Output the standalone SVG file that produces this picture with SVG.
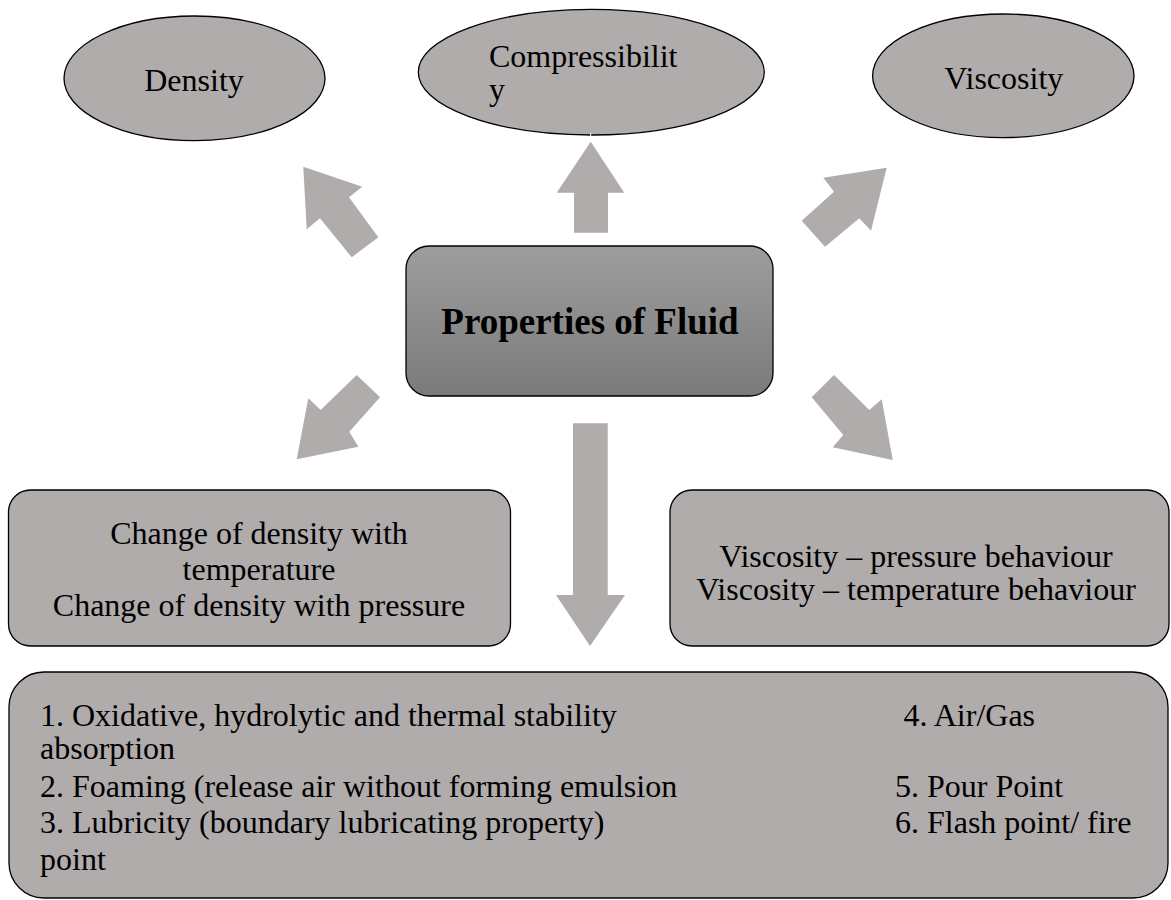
<svg xmlns="http://www.w3.org/2000/svg" width="1171" height="900" viewBox="0 0 1171 900">
  <style>
    .shape { fill: #afacab; stroke: #000; stroke-width: 1.3; }
    .arrow { fill: #afacab; stroke: none; }
    .t { font-family: "Liberation Serif", "Times New Roman", serif; font-size: 32px; fill: #000; }
    .c { text-anchor: middle; }
    .title { font-family: "Liberation Serif", "Times New Roman", serif; font-size: 37px; font-weight: bold; fill: #000; text-anchor: middle; }
  </style>
  <defs>
    <linearGradient id="centerFill" x1="0" y1="0" x2="0" y2="1">
      <stop offset="0" stop-color="#9e9e9e"/>
      <stop offset="1" stop-color="#7a7a7a"/>
    </linearGradient>
  </defs>
  <rect width="1171" height="900" fill="#fff"/>

  <g id="density">
    <ellipse class="shape" cx="194.5" cy="78.3" rx="130.5" ry="62.3"/>
    <text class="t c" x="194" y="90.7">Density</text>
  </g>

  <g id="compressibility">
    <ellipse class="shape" cx="591.3" cy="72.2" rx="173" ry="62.8"/>
    <text class="t" x="489" y="66.7">Compressibilit</text>
    <text class="t" x="489" y="100">y</text>
  </g>

  <g id="viscosity">
    <ellipse class="shape" cx="1003.3" cy="75.8" rx="130.7" ry="61.8"/>
    <text class="t c" x="1003.8" y="89.3">Viscosity</text>
  </g>

  <!-- block arrows radiating from the central box -->
  <g id="connectors">
    <polygon class="arrow" points="303.3,166.7 362.3,186.7 349,197.3 378.3,237.3 351.7,257.3 320,218.3 306.7,229.3"/>
    <polygon class="arrow" points="590.7,141.7 624.3,192.7 608,192.7 608,232.7 574,232.7 574,192.7 556.7,192.7"/>
    <line x1="590.7" y1="133" x2="590.7" y2="141.7" stroke="#fff" stroke-width="1"/>
    <polygon class="arrow" points="886.7,167.7 871,230.7 859.3,218.3 825,246.7 801.7,220.7 834,191.7 823.3,177.7"/>
    <polygon class="arrow" points="356.7,375 380,397.3 349.3,431.7 358.3,446.7 296.7,459.3 308.3,398.3 320.7,410"/>
    <polygon class="arrow" points="573,423.3 607.7,423.3 607.7,595 625,595 590,646 556,595 573,595"/>
    <polygon class="arrow" points="811.7,397.3 834,375 869.3,410 881.7,399.3 892.7,460 832.7,447.3 843.3,435"/>
  </g>

  <g id="properties">
    <rect x="406" y="246" width="367" height="150" rx="23" ry="23" fill="url(#centerFill)" stroke="#000" stroke-width="1.3"/>
    <text class="title" x="590" y="334">Properties of Fluid</text>
  </g>

  <g id="density-changes">
    <rect class="shape" x="8.5" y="490" width="502" height="156" rx="22" ry="22"/>
    <text class="t c" x="259" y="544">Change of density with</text>
    <text class="t c" x="259" y="580">temperature</text>
    <text class="t c" x="259" y="616">Change of density with pressure</text>
  </g>

  <g id="viscosity-behaviour">
    <rect class="shape" x="670" y="490" width="499" height="156" rx="22" ry="22"/>
    <text class="t c" x="916" y="567">Viscosity – pressure behaviour</text>
    <text class="t c" x="916" y="600">Viscosity – temperature behaviour</text>
  </g>

  <g id="other-properties">
    <rect class="shape" x="9" y="672" width="1159" height="226" rx="35" ry="35"/>
    <text class="t" x="40" y="726">1. Oxidative, hydrolytic and thermal stability</text>
    <text class="t" x="40" y="759">absorption</text>
    <text class="t" x="40" y="797">2. Foaming (release air without forming emulsion</text>
    <text class="t" x="40" y="833">3. Lubricity (boundary lubricating property)</text>
    <text class="t" x="40" y="870">point</text>
    <text class="t" x="903.5" y="726">4. Air/Gas</text>
    <text class="t" x="895" y="797">5. Pour Point</text>
    <text class="t" x="895" y="833">6. Flash point/ fire</text>
  </g>
</svg>
